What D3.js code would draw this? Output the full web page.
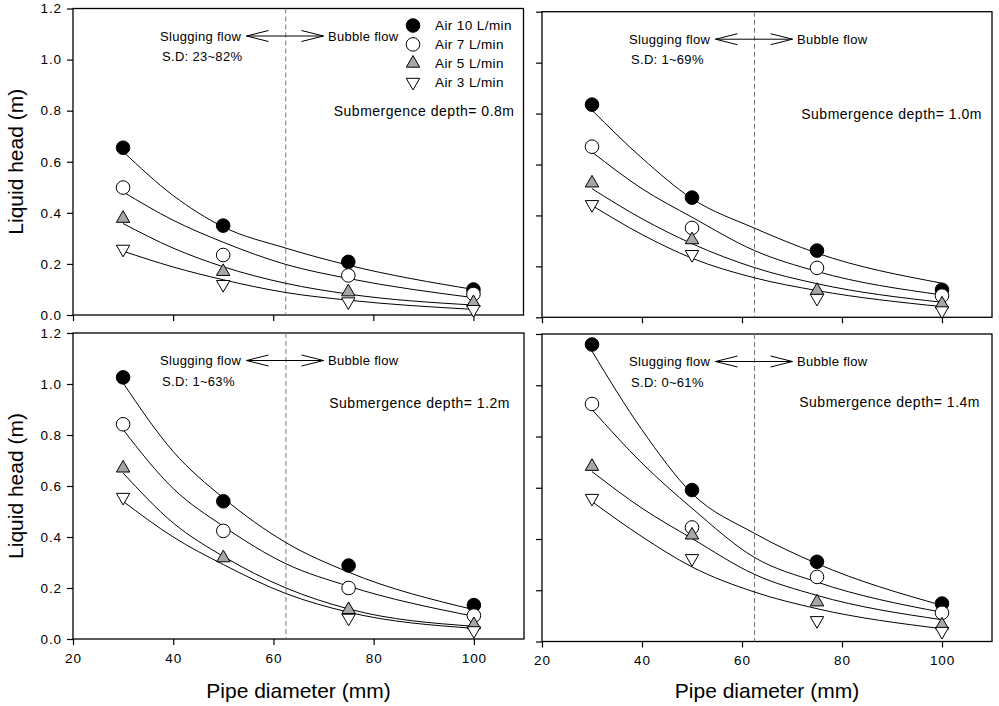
<!DOCTYPE html>
<html>
<head>
<meta charset="utf-8">
<title>Liquid head vs pipe diameter</title>
<script src="https://cdnjs.cloudflare.com/ajax/libs/d3/7.8.5/d3.min.js"></script>
<style>
  body {margin: 0; background: #fff;}
  svg {font-family: "Liberation Sans", Arial, sans-serif;}
</style>
</head>
<body>
<script>
// pipe diameters (mm) where heads were measured, and where the fitted curves were read
var diameters = [30, 50, 75, 100];
var fitDiameters = [30, 40, 50, 62.5, 75, 100];
var seriesNames = ["Air 10 L/min", "Air 7 L/min", "Air 5 L/min", "Air 3 L/min"];
var depthLabels = ["Submergence depth= 0.8m", "Submergence depth= 1.0m",
                   "Submergence depth= 1.2m", "Submergence depth= 1.4m"];
var sdLabels = ["S.D: 23~82%", "S.D: 1~69%", "S.D: 1~63%", "S.D: 0~61%"];
var flowBoundary = 62.5;
var xTicks = [20, 40, 60, 80, 100];
var yTicks = [0, 0.2, 0.4, 0.6, 0.8, 1.0, 1.2];

// measured liquid head (m), rows = air flow 10, 7, 5, 3 L/min (null = no marker shown)
var head08 = [[0.655, 0.350, 0.208, 0.100],
              [0.499, 0.235, 0.155, 0.082],
              [0.378, 0.170, 0.090, 0.048],
              [0.258, 0.120, 0.052, 0.022]];
var head10 = [[0.835, 0.470, 0.262, 0.108],
              [0.670, 0.351, 0.194, 0.085],
              [0.527, 0.304, 0.105, 0.052],
              [0.443, 0.247, 0.075, 0.026]];
var head12 = [[1.026, 0.540, 0.288, 0.133],
              [0.842, 0.424, 0.200, 0.092],
              [0.670, 0.318, 0.115, 0.056],
              [0.556, null,  0.082, 0.033]];
var head14 = [[1.159, 0.591, 0.311, 0.148],
              [0.927, 0.445, 0.252, 0.112],
              [0.683, 0.415, 0.154, 0.064],
              [0.559, 0.324, 0.082, 0.040]];

// fitted curves at fitDiameters
var fit08 = [[0.640, 0.468, 0.345, 0.262, 0.195, 0.100],
             [0.482, 0.371, 0.285, 0.198, 0.143, 0.068],
             [0.358, 0.262, 0.189, 0.124, 0.082, 0.039],
             [0.250, 0.188, 0.138, 0.088, 0.058, 0.022]];
var fit10 = [[0.813, 0.625, 0.466, 0.350, 0.252, 0.134],
             [0.649, 0.505, 0.393, 0.262, 0.180, 0.088],
             [0.505, 0.387, 0.289, 0.195, 0.132, 0.059],
             [0.439, 0.325, 0.232, 0.155, 0.105, 0.042]];
var fit12 = [[1.004, 0.735, 0.553, 0.378, 0.262, 0.115],
             [0.821, 0.590, 0.442, 0.295, 0.207, 0.089],
             [0.651, 0.455, 0.324, 0.200, 0.118, 0.050],
             [0.540, 0.400, 0.292, 0.178, 0.105, 0.042]];
var fit14 = [[1.133, 0.826, 0.578, 0.422, 0.304, 0.141],
             [0.905, 0.696, 0.520, 0.328, 0.232, 0.114],
             [0.663, 0.520, 0.402, 0.262, 0.180, 0.085],
             [0.546, 0.409, 0.291, 0.193, 0.128, 0.050]];

var heads = [head08, head10, head12, head14];
var fits = [fit08, fit10, fit12, fit14];

// panel frames on the page
var boxes = [
  {x0: 73,  x1: 523.5, y0: 8.5,  y1: 315,   xLab: false, yLab: true,  depthY: 103, depthDx: 9},
  {x0: 542, x1: 992,   y0: 11.7, y1: 317.3, xLab: false, yLab: false, depthY: 102, depthDx: 10},
  {x0: 73,  x1: 524,   y0: 333,  y1: 639,   xLab: true,  yLab: true,  depthY: 70,  depthDx: 14},
  {x0: 542, x1: 992,   y0: 334,  y1: 641.5, xLab: true,  yLab: false, depthY: 68,  depthDx: 12}
];

var symTypes = [d3.symbolCircle, d3.symbolCircle, d3.symbolTriangle, d3.symbolTriangle];
var symFills = ["#000", "#fff", "#a6a6a6", "#fff"];
var symRot = [0, 0, 0, 180];
var symSize = [145, 145, 78, 78];

var svg = d3.select("body").append("svg")
    .attr("width", 999)
    .attr("height", 706);

boxes.forEach(function(b, p) {
  var x = d3.scaleLinear().domain([20, 110]).range([b.x0, b.x1]);
  var y = d3.scaleLinear().domain([0, 1.2]).range([b.y1, b.y0]);
  var g = svg.append("g");

  // axes
  var xAxis = d3.axisBottom(x).tickValues(xTicks).tickSize(6).tickSizeOuter(0).tickPadding(8)
      .tickFormat(b.xLab ? d3.format("d") : "");
  var yAxis = d3.axisLeft(y).tickValues(yTicks).tickSize(6).tickSizeOuter(0).tickPadding(5)
      .tickFormat(b.yLab ? d3.format(".1f") : "");
  g.append("g").attr("transform", "translate(0," + b.y1 + ")").call(xAxis);
  g.append("g").attr("transform", "translate(" + b.x0 + ",0)").call(yAxis);
  g.selectAll(".domain").remove();
  g.selectAll(".tick line").attr("stroke", "#000").attr("stroke-width", 1.2);
  g.selectAll(".tick text")
      .attr("fill", "#000")
      .style("font-size", "13.5px")
      .style("letter-spacing", "0.9px");

  g.append("rect")
      .attr("x", b.x0).attr("y", b.y0)
      .attr("width", b.x1 - b.x0).attr("height", b.y1 - b.y0)
      .attr("fill", "none")
      .attr("stroke", "#000")
      .attr("stroke-width", 1.3);

  // slugging / bubble boundary
  g.append("line")
      .attr("x1", x(flowBoundary)).attr("x2", x(flowBoundary))
      .attr("y1", b.y0).attr("y2", b.y1)
      .attr("stroke", "#777")
      .attr("stroke-dasharray", "5,3");

  // fitted curves
  var line = d3.line()
      .x(function(d, i) { return x(fitDiameters[i]); })
      .y(function(d) { return y(d); })
      .curve(d3.curveMonotoneX);
  fits[p].forEach(function(f) {
    g.append("path")
        .attr("d", line(f))
        .attr("fill", "none")
        .attr("stroke", "#000")
        .attr("stroke-width", 1);
  });

  // measured points
  heads[p].forEach(function(row, s) {
    var pts = row.map(function(v, i) { return {d: diameters[i], h: v}; })
        .filter(function(o) { return o.h !== null; });
    g.selectAll(".pt" + s)
        .data(pts)
        .enter()
        .append("path")
        .attr("d", d3.symbol().type(symTypes[s]).size(symSize[s]))
        .attr("transform", function(o) {
          return "translate(" + x(o.d) + "," + y(o.h) + ") rotate(" + symRot[s] + ")";
        })
        .attr("fill", symFills[s])
        .attr("stroke", "#000")
        .attr("stroke-width", 1);
  });

  // annotations
  var ty = b.y0 + 27.5;
  g.append("text").attr("x", b.x0 + 87).attr("y", ty).attr("dy", "0.35em")
      .style("font-size", "13px").style("letter-spacing", "0.3px")
      .text("Slugging flow");
  g.append("text").attr("x", b.x0 + 89).attr("y", b.y0 + 48).attr("dy", "0.35em")
      .style("font-size", "13px").style("letter-spacing", "0.3px")
      .text(sdLabels[p]);
  g.append("text").attr("x", b.x0 + 255).attr("y", ty).attr("dy", "0.35em")
      .style("font-size", "13px").style("letter-spacing", "0.3px")
      .text("Bubble flow");
  var a0 = b.x0 + 173.5, a1 = b.x0 + 250.5;
  g.append("path")
      .attr("d", "M" + a0 + "," + ty + "H" + a1 +
                 "M" + (a0 + 22) + "," + (ty - 5.5) + "L" + a0 + "," + ty + "L" + (a0 + 22) + "," + (ty + 5.5) +
                 "M" + (a1 - 22) + "," + (ty - 5.5) + "L" + a1 + "," + ty + "L" + (a1 - 22) + "," + (ty + 5.5))
      .attr("fill", "none")
      .attr("stroke", "#000")
      .attr("stroke-width", 1);

  g.append("text")
      .attr("x", b.x1 - b.depthDx).attr("y", b.y0 + b.depthY).attr("dy", "0.35em")
      .attr("text-anchor", "end")
      .style("font-size", "14px").style("letter-spacing", "0.5px")
      .text(depthLabels[p]);

  // axis titles
  if (b.yLab) {
    g.append("text")
        .attr("transform", "translate(16," + ((b.y0 + b.y1) / 2) + ") rotate(-90)")
        .attr("dy", "0.35em")
        .attr("text-anchor", "middle")
        .style("font-size", "21px")
        .text("Liquid head (m)");
  }
  if (b.xLab) {
    g.append("text")
        .attr("x", (b.x0 + b.x1) / 2).attr("y", 698)
        .attr("text-anchor", "middle")
        .style("font-size", "21px")
        .text("Pipe diameter (mm)");
  }

  // legend (first panel only)
  if (p === 0) {
    var leg = g.selectAll(".leg")
        .data(seriesNames)
        .enter()
        .append("g")
        .attr("transform", function(d, i) { return "translate(413," + (b.y0 + 17 + i * 18.9) + ")"; });
    leg.append("path")
        .attr("d", function(d, i) { return d3.symbol().type(symTypes[i]).size(symSize[i])(); })
        .attr("transform", function(d, i) { return "rotate(" + symRot[i] + ")"; })
        .attr("fill", function(d, i) { return symFills[i]; })
        .attr("stroke", "#000");
    leg.append("text")
        .attr("x", 22).attr("dy", "0.35em")
        .style("font-size", "13.5px").style("letter-spacing", "0.4px")
        .text(function(d) { return d; });
  }
});
</script>
</body>
</html>
